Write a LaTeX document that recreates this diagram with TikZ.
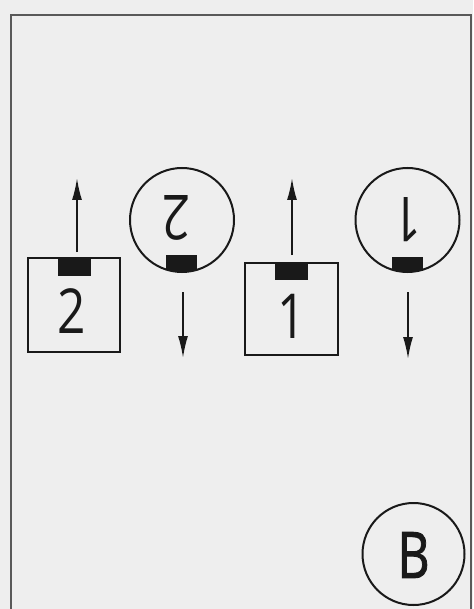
\documentclass[tikz,border=0pt]{standalone}
\usepackage{fontspec}
\setmainfont{Open Sans}
\newfontfamily\heavyfont[FakeBold=1.5]{Open Sans}
\usetikzlibrary{arrows.meta}
\definecolor{paper}{RGB}{238,238,238}
\definecolor{ink}{RGB}{25,25,25}
\begin{document}
\begin{tikzpicture}[x=1pt,y=-1pt,
  box/.style={draw=ink, line width=2pt, rectangle, inner sep=0pt},
  ring/.style={draw=ink, circle, line width=2pt, minimum size=104pt, inner sep=0pt},
  tab/.style={fill=ink},
  digit/.style={text=ink, font=\fontsize{62}{62}\selectfont, inner sep=0pt, xscale=0.8},
  arr/.style={draw=ink, line width=1.8pt, -{Latex[length=22pt,width=10pt]}},
]
\fill[paper] (0,0) rectangle (473,609);
\useasboundingbox (0,0) rectangle (473,609);
\draw[line width=2pt, black!65] (11,609) -- (11,15) -- (471,15) -- (471,609);

% boxes
\node[box, minimum width=92pt, minimum height=94pt] (box2) at (74,305) {};
\node[box, minimum width=93pt, minimum height=92pt] (box1) at (291.5,309) {};
\node[digit] (lab2) at (72,311) {2};
\node[digit] (lab1) at (292,316) {1};
\fill[tab] (58,258) rectangle (91,276);
\fill[tab] (275,263) rectangle (308,280);

% circles
\node[ring] (c2) at (182,220) {};
\node[ring] (c1) at (407.5,220) {};
\node[digit, rotate=180] (rl2) at (176.5,217.5) {2};
\node[digit, rotate=180] (rl1) at (407,220) {1};
\begin{scope}
  \clip (182,220) circle (52pt);
  \fill[tab] (166,255) rectangle (197,280);
\end{scope}
\begin{scope}
  \clip (407.5,220) circle (52pt);
  \fill[tab] (392,257) rectangle (423,280);
\end{scope}

% arrows
\coordinate (u2t) at (77,252);
\coordinate (u2h) at (77,178);
\coordinate (u1t) at (292,255);
\coordinate (u1h) at (292,178);
\coordinate (d2t) at (183,292);
\coordinate (d2h) at (183,358);
\coordinate (d1t) at (408,292);
\coordinate (d1h) at (408,359);
\draw[arr] (u2t) -- (u2h);
\draw[arr] (u1t) -- (u1h);
\draw[arr] (d2t) -- (d2h);
\draw[arr] (d1t) -- (d1h);

% B
\node[ring, minimum size=102pt] (cB) at (413.5,554) {};
\node[text=ink, font=\heavyfont\fontsize{64}{64}\selectfont, inner sep=0pt, xscale=0.78] (labB) at (413.5,555) {B};
\end{tikzpicture}
\end{document}
